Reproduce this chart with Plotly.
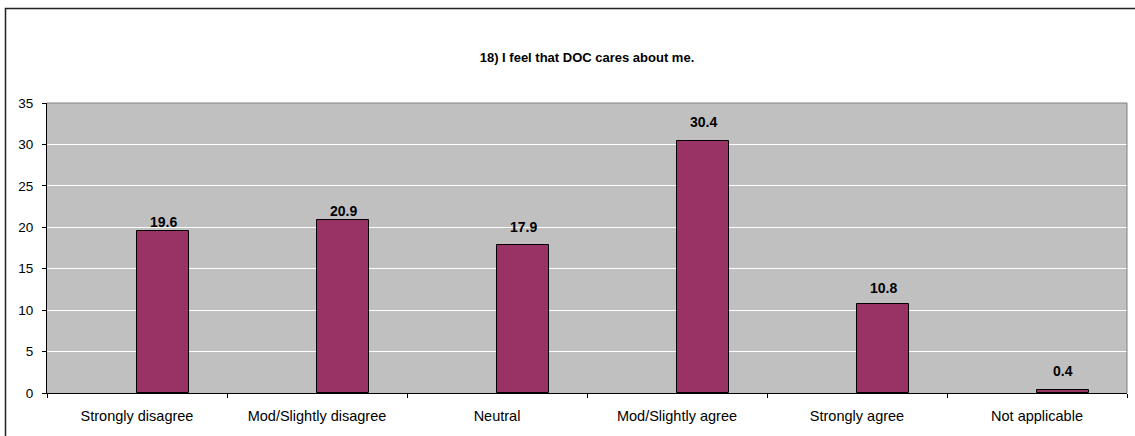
import plotly.graph_objects as go

categories = ["Strongly disagree", "Mod/Slightly disagree", "Neutral",
              "Mod/Slightly agree", "Strongly agree", "Not applicable"]
values = [19.6, 20.9, 17.9, 30.4, 10.8, 0.4]
title_text = "18) I feel that DOC cares about me."
y_ticks = [0, 5, 10, 15, 20, 25, 30, 35]

# label offsets above bar tops (pixels), as placed in the original
label_shift = [9, 9, 18, 19, 16, 19]

FONT = "Liberation Sans, Arial, sans-serif"
BAR_W = 0.29

fig = go.Figure()
fig.add_trace(go.Bar(
    x=categories, y=values,
    width=BAR_W, offset=0,
    marker=dict(color="#993366", line=dict(color="#000000", width=1)),
    hoverinfo="x+y",
))

annotations = []
for i, (c, v) in enumerate(zip(categories, values)):
    annotations.append(dict(
        x=i + BAR_W / 2, y=v, xref="x", yref="y",
        text=f"<b>{v:.1f}</b>", showarrow=False,
        yanchor="middle", yshift=label_shift[i],
        font=dict(family=FONT, size=14, color="#000000"),
    ))

fig.update_layout(
    width=1135, height=436,
    margin=dict(l=47, r=8, t=103, b=43),
    paper_bgcolor="#FFFFFF",
    plot_bgcolor="#C0C0C0",
    showlegend=False,
    bargap=0,
    title=dict(text="<b>" + title_text + "</b>", x=0.5, xref="paper",
               xanchor="center", y=(436 - 57) / 436, yanchor="middle",
               font=dict(family=FONT, size=13, color="#000000")),
    font=dict(family=FONT, color="#000000"),
    xaxis=dict(
        type="category", range=[-0.5, 5.5],
        showline=True, linecolor="#000000", linewidth=1,
        ticks="outside", ticklen=4, tickcolor="#000000", tickwidth=1,
        tickson="boundaries", showgrid=False,
        tickfont=dict(family=FONT, size=14.5, color="#000000"),
        ticklabelstandoff=10,
    ),
    yaxis=dict(
        range=[0, 35], tickvals=y_ticks, autorange=False,
        showline=True, linecolor="#000000", linewidth=1,
        ticks="outside", ticklen=4, tickcolor="#000000", tickwidth=1,
        showgrid=True, gridcolor="#FFFFFF", gridwidth=1,
        zeroline=False,
        tickfont=dict(family=FONT, size=13.5, color="#000000"),
        ticklabelstandoff=6,
    ),
    annotations=annotations,
    shapes=[
        dict(type="line", xref="paper", yref="paper", x0=0, x1=1, y0=1, y1=1,
             line=dict(color="#808080", width=1)),
        dict(type="line", xref="paper", yref="paper", x0=1, x1=1, y0=0, y1=1,
             line=dict(color="#808080", width=1)),
        dict(type="rect", xref="paper", yref="paper",
             x0=(5.5 - 47) / 1080, x1=1.05,
             y0=-0.3, y1=(393 - 8.5) / 290,
             line=dict(color="#222222", width=1.5), fillcolor="rgba(0,0,0,0)"),
    ],
)

fig.write_html(
    "out.html",
    config={"displayModeBar": False},
    post_script="document.body.style.margin='0';document.body.style.overflow='hidden';",
)
